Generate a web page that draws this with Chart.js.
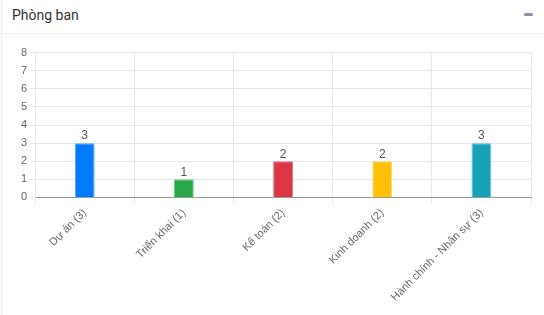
<!DOCTYPE html>
<html>
<head>
<meta charset="utf-8">
<script src="https://cdn.jsdelivr.net/npm/chart.js@4"></script>
<style>
  body { margin: 0; background: #fff; font-family: Roboto, "Liberation Sans", sans-serif; }
  .card { position: absolute; left: 1px; top: 0; width: 543px; height: 315px; border-left: 1px solid #eee; background: #fff; }
  .card-header { height: 33px; border-bottom: 1px solid #eee; position: relative; }
  .card-title { position: absolute; left: 10px; top: 7px; font-size: 14px; color: #333; }
  .tool { position: absolute; right: 12px; top: 13px; width: 9px; height: 3px; background: #8a93a6; border-radius: 1px; }
  .chart-box { position: absolute; left: 16px; top: 43px; width: 517px; height: 264px; }
</style>
</head>
<body>
<div class="card">
  <div class="card-header">
    <span class="card-title">Phòng ban</span>
    <span class="tool"></span>
  </div>
  <div class="chart-box"><canvas id="chart-phongban"></canvas></div>
</div>
<script>
const labels = ["Dự án (3)", "Triển khai (1)", "Kế toán (2)", "Kinh doanh (2)", "Hành chính - Nhân sự (3)"];
const values = [3, 1, 2, 2, 3];
const colors = ["#007bff", "#28a745", "#dc3545", "#ffc107", "#17a2b8"];
const borders = ["#4da3ff", "#6fcf86", "#e8737e", "#ffd65c", "#5cc3d2"];

// value above each bar
const valueLabels = {
  id: "valueLabels",
  afterDatasetsDraw(chart) {
    const ctx = chart.ctx;
    ctx.save();
    ctx.font = "12px 'Liberation Sans', Arial, sans-serif";
    ctx.fillStyle = "#555";
    ctx.textAlign = "center";
    ctx.textBaseline = "bottom";
    chart.getDatasetMeta(0).data.forEach(function (bar, i) {
      ctx.fillText(values[i], bar.x, bar.y - 1);
    });
    ctx.restore();
  },
};

const ctx = document.getElementById("chart-phongban").getContext("2d");
const chart = new Chart(ctx, {
  type: "bar",
  data: {
    labels: labels,
    datasets: [
      {
        label: "Phòng ban",
        data: values,
        backgroundColor: colors,
        borderColor: borders,
        borderWidth: 1,
        barPercentage: 0.25,
        categoryPercentage: 0.8,
      },
    ],
  },
  options: {
    responsive: true,
    maintainAspectRatio: false,
    animation: false,
    layout: { padding: { top: 6, right: 4 } },
    plugins: { legend: { display: false }, tooltip: { enabled: false } },
    scales: {
      x: {
        grid: { color: "#e8e8e8", tickLength: 6, offset: true },
        border: { color: "#999" },
        ticks: {
          color: "#666",
          font: { family: "'Liberation Sans', Arial, sans-serif", size: 11 },
          minRotation: 45,
          maxRotation: 45,
        },
      },
      y: {
        min: 0,
        max: 8,
        grid: { color: "#e8e8e8", tickLength: 5 },
        border: { color: "#e8e8e8" },
        ticks: {
          stepSize: 1,
          color: "#666",
          font: { family: "'Liberation Sans', Arial, sans-serif", size: 11 },
        },
      },
    },
  },
  plugins: [valueLabels],
});
</script>
</body>
</html>
